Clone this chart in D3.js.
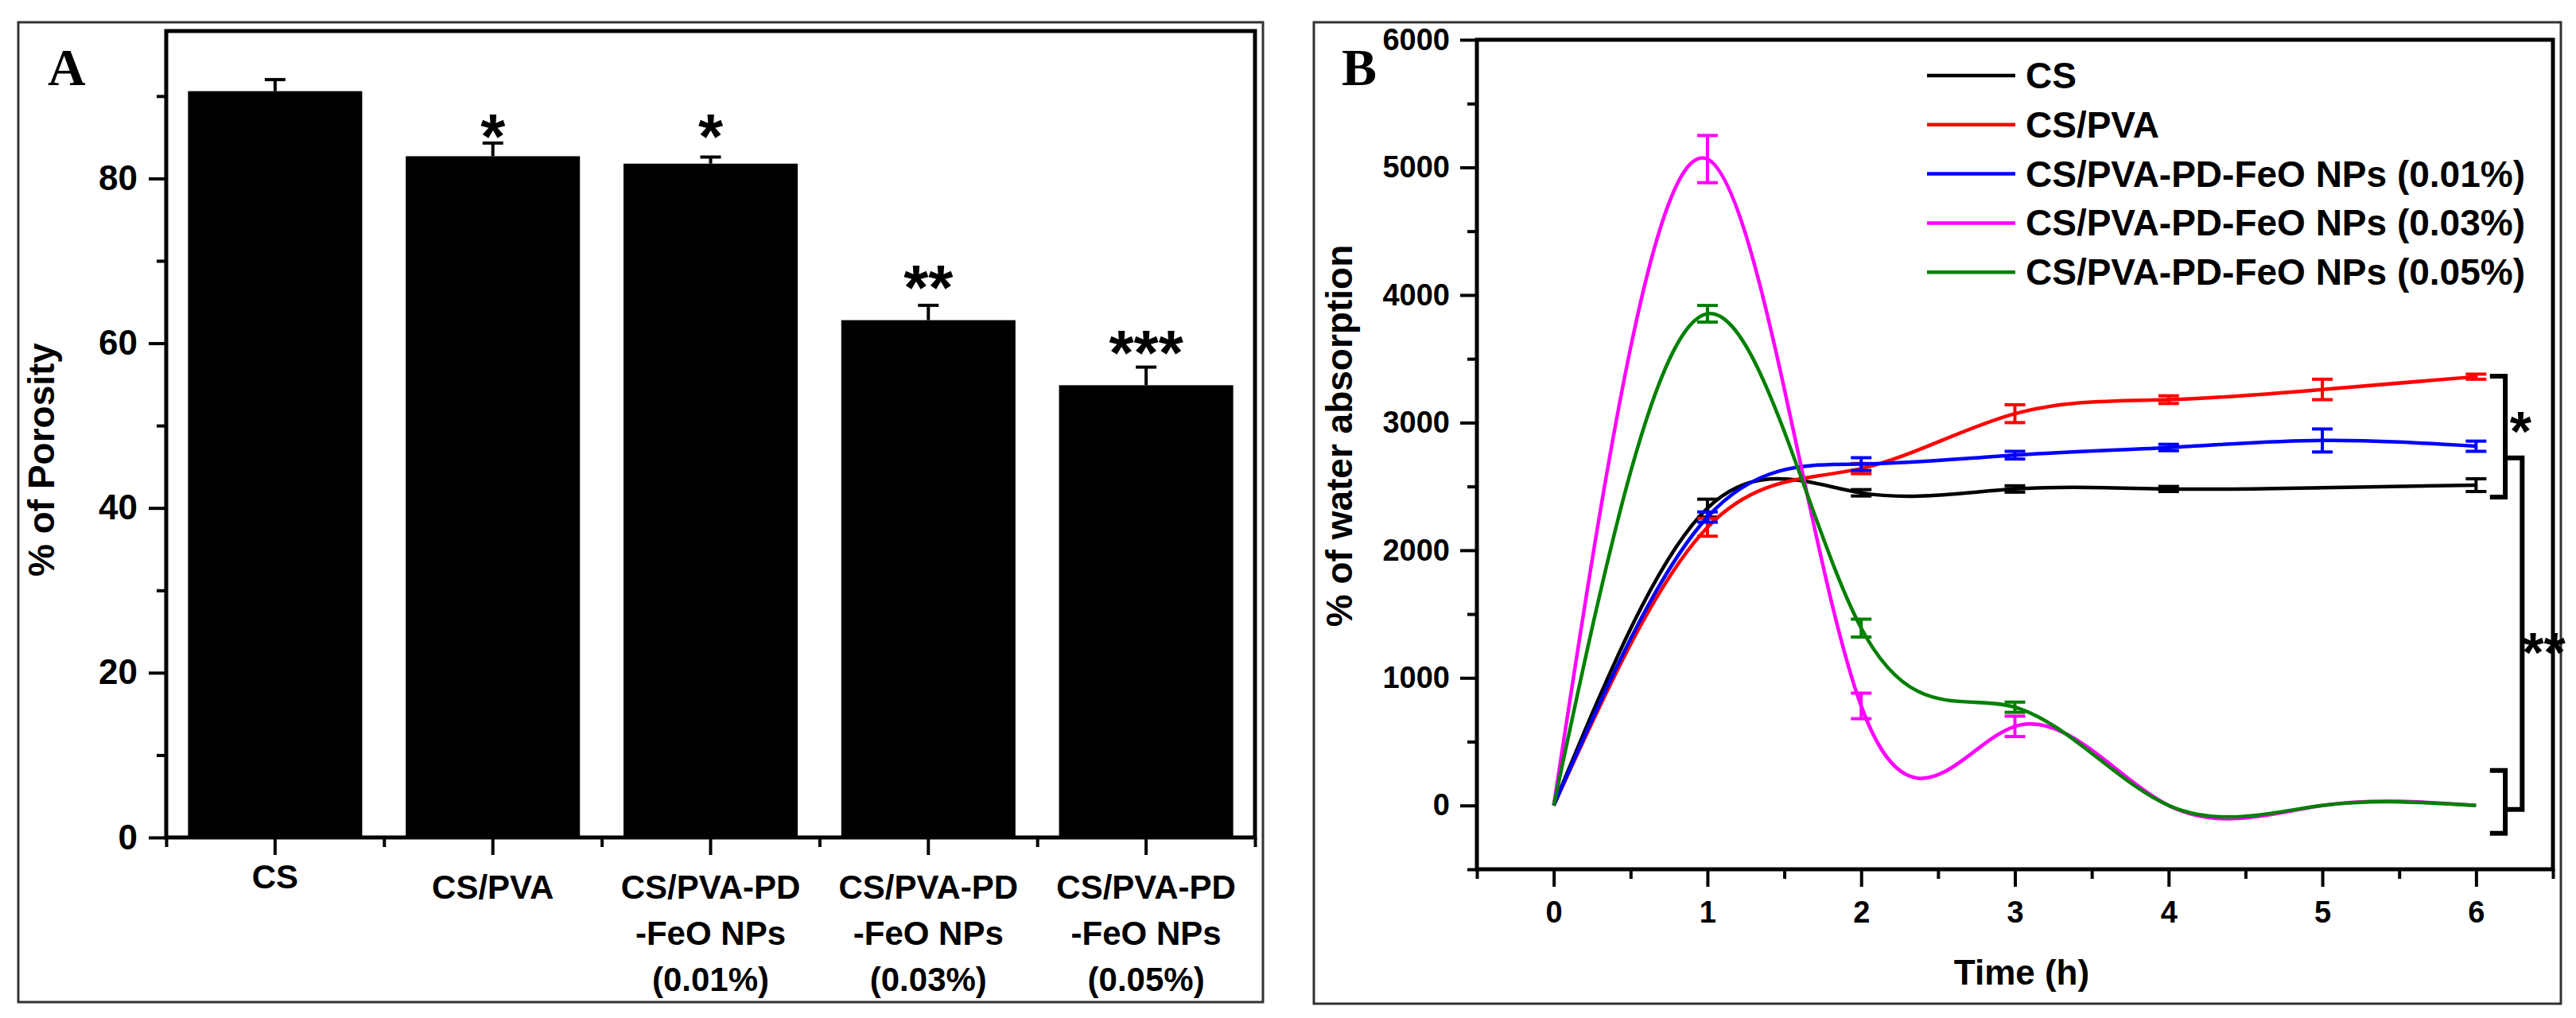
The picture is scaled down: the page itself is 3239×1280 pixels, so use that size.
<!DOCTYPE html>
<meta charset="utf-8">
<style>
body { margin: 0; background: #fff; }
text { font-family: 'Liberation Sans', Arial, sans-serif; font-weight: bold; fill: #000; }
</style>
<svg width="3239" height="1280"></svg>
<script src="https://d3js.org/d3.v7.min.js"></script>
<script>
// ---- panel A data
var barLabels = [["CS"], ["CS/PVA"], ["CS/PVA-PD", "-FeO NPs", "(0.01%)"], ["CS/PVA-PD", "-FeO NPs", "(0.03%)"], ["CS/PVA-PD", "-FeO NPs", "(0.05%)"]];
var porosity = [90.6, 82.7, 81.8, 62.8, 54.9];
var porosityErr = [1.4, 1.6, 0.8, 1.8, 2.2];
var porositySig = ["", "*", "*", "**", "***"];
var porositySigAt = [0, 86.9, 86.9, 68.6, 60.7];
var porosityTicks = [0, 20, 40, 60, 80];
var porosityMinor = [10, 30, 50, 70, 90];

// ---- panel B data
var hours = [0, 1, 2, 3, 4, 5, 6];
var seriesNames = ["CS", "CS/PVA", "CS/PVA-PD-FeO NPs (0.01%)", "CS/PVA-PD-FeO NPs (0.03%)", "CS/PVA-PD-FeO NPs (0.05%)"];
var seriesColors = ["#000000", "#ff0000", "#0000ff", "#ff00ff", "#008000"];
var absCS  = [0, 2330, 2450, 2480, 2480, 2490, 2510];
var absPVA = [0, 2180, 2640, 3070, 3180, 3260, 3360];
var abs001 = [0, 2260, 2675, 2745, 2805, 2860, 2815];
var abs003 = [0, 5065, 780, 620, 0, 0, 0];
var abs005 = [0, 3853, 1390, 770, 0, 0, 0];
var errCS  = [0, 70, 25, 25, 20, 0, 50];
var errPVA = [0, 70, 40, 70, 30, 80, 20];
var err001 = [0, 40, 50, 30, 25, 90, 40];
var err003 = [0, 185, 100, 80, 0, 0, 0];
var err005 = [0, 65, 70, 40, 0, 0, 0];
var absTicks = [0, 1000, 2000, 3000, 4000, 5000, 6000];
var absMinor = [-500, 500, 1500, 2500, 3500, 4500, 5500];
var hourMinor = [-0.5, 0.5, 1.5, 2.5, 3.5, 4.5, 5.5, 6.5];
// significance brackets, in hours / % units
var brackets = [
  {x: 6.19, from: 3364, to: 2417, arm: 6.09},
  {x: 6.19, from: 275, to: -218, arm: 6.09},
  {x: 6.30, from: 2723, to: -31, arm: 6.19}
];
var bracketStars = [{x: 6.29, y: 3033, text: "*"}, {x: 6.44, y: 1301, text: "**"}];

var svg = d3.select("svg");

function frame(x, y, w, h) {
  svg.append("rect").attr("x", x).attr("y", y).attr("width", w).attr("height", h)
    .attr("fill", "none").attr("stroke", "#333").attr("stroke-width", 3);
}
function star(g, x, y, s, size) {
  g.append("text").attr("x", x).attr("y", y + 0.58 * size)
    .attr("text-anchor", "middle").style("font-size", size + "px").text(s);
}

// ================= panel A =================
frame(23, 28, 1565, 1232);

var ax0 = 209, ax1 = 1578, ayTop = 39, ayZero = 1053;
var xA = d3.scaleBand().domain(d3.range(porosity.length)).range([ax0, ax1]).paddingInner(0.2).paddingOuter(0.1);
var xAedge = d3.scaleLinear().domain([0, porosity.length]).range([ax0, ax1]);
var yA = d3.scaleLinear().domain([0, 97.9]).range([ayZero, ayTop]);

var gA = svg.append("g");

gA.selectAll("rect.bar").data(porosity).enter().append("rect")
  .attr("class", "bar")
  .attr("x", function(d, i) { return xA(i); })
  .attr("width", xA.bandwidth())
  .attr("y", function(d) { return yA(d); })
  .attr("height", function(d) { return yA(0) - yA(d); })
  .attr("fill", "#000");

// error bars (upper only)
porosity.forEach(function(v, i) {
  var cx = xA(i) + xA.bandwidth() / 2, top = yA(v + porosityErr[i]);
  gA.append("line").attr("x1", cx).attr("x2", cx).attr("y1", yA(v)).attr("y2", top)
    .attr("stroke", "#000").attr("stroke-width", 4);
  gA.append("line").attr("x1", cx - 13).attr("x2", cx + 13).attr("y1", top).attr("y2", top)
    .attr("stroke", "#000").attr("stroke-width", 4);
  if (porositySig[i]) star(gA, cx, yA(porositySigAt[i]), porositySig[i], 80);
});

// axes
var yAxisA = gA.append("g").attr("transform", "translate(" + ax0 + ",0)")
  .call(d3.axisLeft(yA).tickValues(porosityTicks).tickSize(22).tickPadding(14).tickFormat(d3.format("d")));
var yMinorA = gA.append("g").attr("transform", "translate(" + ax0 + ",0)")
  .call(d3.axisLeft(yA).tickValues(porosityMinor).tickSize(12).tickFormat(""));
var xAxisA = gA.append("g").attr("transform", "translate(0," + ayZero + ")")
  .call(d3.axisBottom(xA).tickSize(22).tickFormat(""));
var xMinorA = gA.append("g").attr("transform", "translate(0," + ayZero + ")")
  .call(d3.axisBottom(xAedge).tickValues(d3.range(porosity.length + 1)).tickSize(12).tickFormat(""));
[yAxisA, yMinorA, xAxisA, xMinorA].forEach(function(a) {
  a.select(".domain").remove();
  a.selectAll(".tick line").attr("stroke", "#000").attr("stroke-width", 4);
});
yAxisA.selectAll(".tick text").style("font-size", "44px").attr("fill", "#000");

gA.append("rect").attr("x", ax0).attr("y", ayTop).attr("width", ax1 - ax0).attr("height", ayZero - ayTop)
  .attr("fill", "none").attr("stroke", "#000").attr("stroke-width", 5);

// category labels
barLabels.forEach(function(lines, i) {
  var cx = xA(i) + xA.bandwidth() / 2;
  var t = gA.append("text").attr("text-anchor", "middle").style("font-size", "42px");
  lines.forEach(function(s, j) {
    var base = lines.length === 1 && i === 0 ? 1117 : 1130;
    t.append("tspan").attr("x", cx).attr("y", base + j * 58).text(s);
  });
});

gA.append("text").attr("transform", "translate(68,578) rotate(-90)")
  .attr("text-anchor", "middle").style("font-size", "46px").text("% of Porosity");

gA.append("text").attr("x", 60).attr("y", 107)
  .style("font-family", "'Liberation Serif', 'Times New Roman', serif").style("font-size", "66px").text("A");

// ================= panel B =================
frame(1652, 28, 1568, 1234);

var bx0 = 1857, bx1 = 3210, byTop = 50, byBot = 1093;
var xB = d3.scaleLinear().domain([-0.5, 6.5]).range([bx0, bx1]);
var yB = d3.scaleLinear().domain([-500, 6000]).range([byBot, byTop]);
var gB = svg.append("g");

var yAxisB = gB.append("g").attr("transform", "translate(" + bx0 + ",0)")
  .call(d3.axisLeft(yB).tickValues(absTicks).tickSize(21).tickPadding(13).tickFormat(d3.format("d")));
var yMinorB = gB.append("g").attr("transform", "translate(" + bx0 + ",0)")
  .call(d3.axisLeft(yB).tickValues(absMinor).tickSize(12).tickFormat(""));
var xAxisB = gB.append("g").attr("transform", "translate(0," + byBot + ")")
  .call(d3.axisBottom(xB).tickValues(hours).tickSize(22).tickPadding(18).tickFormat(d3.format("d")));
var xMinorB = gB.append("g").attr("transform", "translate(0," + byBot + ")")
  .call(d3.axisBottom(xB).tickValues(hourMinor).tickSize(12).tickFormat(""));
[yAxisB, yMinorB, xAxisB, xMinorB].forEach(function(a) {
  a.select(".domain").remove();
  a.selectAll(".tick line").attr("stroke", "#000").attr("stroke-width", 4);
});
yAxisB.selectAll(".tick text").style("font-size", "38px").attr("fill", "#000");
xAxisB.selectAll(".tick text").style("font-size", "38px").attr("fill", "#000");

gB.append("rect").attr("x", bx0).attr("y", byTop).attr("width", bx1 - bx0).attr("height", byBot - byTop)
  .attr("fill", "none").attr("stroke", "#000").attr("stroke-width", 5);

var series = [
  {vals: absCS, err: errCS},
  {vals: absPVA, err: errPVA},
  {vals: abs001, err: err001},
  {vals: abs003, err: err003},
  {vals: abs005, err: err005}
];

var line = d3.line()
  .x(function(d) { return xB(d[0]); })
  .y(function(d) { return yB(d[1]); })
  .curve(d3.curveNatural);

series.forEach(function(s, k) {
  var pts = hours.map(function(h, i) { return [h, s.vals[i]]; });
  gB.append("path").datum(pts).attr("d", line)
    .attr("fill", "none").attr("stroke", seriesColors[k]).attr("stroke-width", 4.5);
  hours.forEach(function(h, i) {
    if (!s.err[i]) return;
    var cx = xB(h), y1 = yB(s.vals[i] + s.err[i]), y2 = yB(s.vals[i] - s.err[i]);
    gB.append("line").attr("x1", cx).attr("x2", cx).attr("y1", y1).attr("y2", y2)
      .attr("stroke", seriesColors[k]).attr("stroke-width", 4);
    [y1, y2].forEach(function(yy) {
      gB.append("line").attr("x1", cx - 13).attr("x2", cx + 13).attr("y1", yy).attr("y2", yy)
        .attr("stroke", seriesColors[k]).attr("stroke-width", 4);
    });
  });
});

// legend
seriesNames.forEach(function(n, k) {
  var ly = 95 + k * 61.8;
  gB.append("line").attr("x1", 2423).attr("x2", 2534).attr("y1", ly).attr("y2", ly)
    .attr("stroke", seriesColors[k]).attr("stroke-width", 4.5);
  gB.append("text").attr("x", 2547).attr("y", ly + 16).style("font-size", "46px").text(n);
});

// significance brackets
brackets.forEach(function(b) {
  var p = d3.path();
  p.moveTo(xB(b.arm), yB(b.from));
  p.lineTo(xB(b.x), yB(b.from));
  p.lineTo(xB(b.x), yB(b.to));
  p.lineTo(xB(b.arm), yB(b.to));
  gB.append("path").attr("d", p.toString()).attr("fill", "none")
    .attr("stroke", "#000").attr("stroke-width", 6);
});
bracketStars.forEach(function(s) { star(gB, xB(s.x), yB(s.y), s.text, 70); });

gB.append("text").attr("x", 2542).attr("y", 1238).attr("text-anchor", "middle")
  .style("font-size", "44px").text("Time (h)");
gB.append("text").attr("transform", "translate(1700,548) rotate(-90)")
  .attr("text-anchor", "middle").style("font-size", "46px").text("% of water absorption");

gB.append("text").attr("x", 1687).attr("y", 107)
  .style("font-family", "'Liberation Serif', 'Times New Roman', serif").style("font-size", "66px").text("B");
</script>
